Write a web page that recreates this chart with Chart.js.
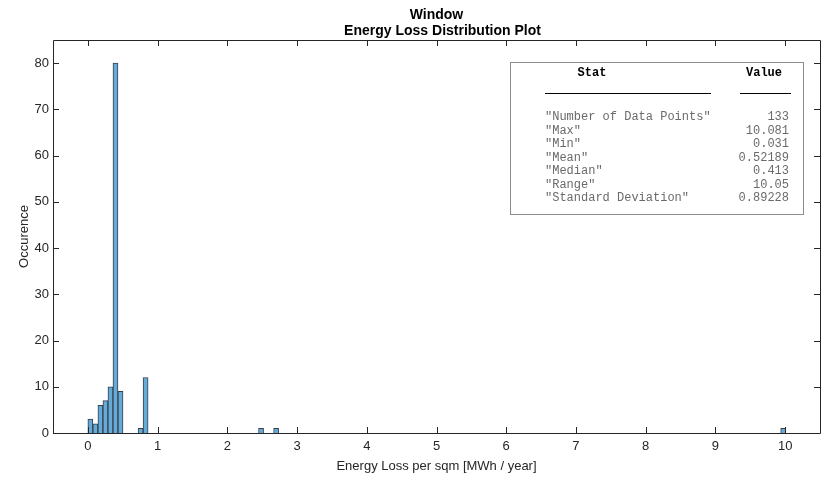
<!DOCTYPE html>
<html>
<head>
<meta charset="utf-8">
<script src="https://cdn.jsdelivr.net/npm/chart.js@4.4.1/dist/chart.umd.min.js"></script>
<style>
    html, body { margin: 0; padding: 0; background: #fff; }
    #wrap { width: 827px; height: 477px; position: relative; }
</style>
</head>
<body>
<div id="wrap"><canvas id="histChart"></canvas></div>
<script>
// Histogram bins (centers, MWh / year) and counts
const binWidth = 0.072;
const binCenters = [0.036, 0.108, 0.18, 0.252, 0.324, 0.396, 0.468, 0.756, 0.828, 2.484, 2.7, 9.972];
const binCounts = [3, 2, 6, 7, 10, 80, 9, 1, 12, 1, 1, 1];

const xTickValues = [0, 1, 2, 3, 4, 5, 6, 7, 8, 9, 10];
const yTickValues = [0, 10, 20, 30, 40, 50, 60, 70, 80];

const titleLines = ['Window', 'Energy Loss Distribution Plot'];

// Stats table
const statNames = ['"Number of Data Points"', '"Max"', '"Min"', '"Mean"', '"Median"', '"Range"', '"Standard Deviation"'];
const statValues = ['133', '10.081', '0.031', '0.52189', '0.413', '10.05', '0.89228'];

const axisColor = '#262626';

// Draws the MATLAB-like box, inward ticks, titles and the stats table
const matlabFrame = {
    id: 'matlabFrame',
    afterDraw(chart) {
        const ctx = chart.ctx;
        const area = chart.chartArea;
        const xs = chart.scales.x;
        const ys = chart.scales.y;
        const tickLen = 6;

        ctx.save();
        ctx.strokeStyle = axisColor;
        ctx.lineWidth = 1;
        ctx.beginPath();
        ctx.rect(Math.round(area.left) + 0.5, Math.round(area.top) + 0.5,
            Math.round(area.right - area.left), Math.round(area.bottom - area.top));
        ctx.stroke();

        ctx.beginPath();
        xTickValues.forEach(v => {
            const px = Math.round(xs.getPixelForValue(v)) + 0.5;
            ctx.moveTo(px, area.bottom);
            ctx.lineTo(px, area.bottom - tickLen);
            ctx.moveTo(px, area.top);
            ctx.lineTo(px, area.top + tickLen);
        });
        yTickValues.forEach(v => {
            const py = Math.round(ys.getPixelForValue(v)) + 0.5;
            ctx.moveTo(area.left, py);
            ctx.lineTo(area.left + tickLen, py);
            ctx.moveTo(area.right, py);
            ctx.lineTo(area.right - tickLen, py);
        });
        ctx.stroke();

        // Title
        const cx = (area.left + area.right) / 2;
        ctx.fillStyle = '#000';
        ctx.textAlign = 'center';
        ctx.textBaseline = 'middle';
        ctx.font = 'bold 14px "Liberation Sans", Arial, sans-serif';
        ctx.fillText(titleLines[0], cx, 15);
        ctx.fillText(titleLines[1], cx + 6, 31);

        // Stats table
        const box = { left: 510, top: 62, right: 803, bottom: 214 };
        ctx.fillStyle = '#fff';
        ctx.fillRect(box.left, box.top, box.right - box.left, box.bottom - box.top);
        ctx.strokeStyle = '#8c8c8c';
        ctx.strokeRect(box.left + 0.5, box.top + 0.5, box.right - box.left, box.bottom - box.top);

        ctx.fillStyle = '#000';
        ctx.font = 'bold 12px "Liberation Mono", "Courier New", monospace';
        ctx.fillText('Stat', 592, 73);
        ctx.fillText('Value', 764, 73);

        ctx.strokeStyle = '#000';
        ctx.beginPath();
        ctx.moveTo(545, 93.5); ctx.lineTo(711, 93.5);
        ctx.moveTo(740, 93.5); ctx.lineTo(791, 93.5);
        ctx.stroke();

        ctx.font = '12px "Liberation Mono", "Courier New", monospace';
        ctx.fillStyle = '#6a6a6a';
        statNames.forEach((name, i) => {
            const y = 117 + i * 13.5;
            ctx.textAlign = 'left';
            ctx.fillText(name, 545, y);
            ctx.textAlign = 'right';
            ctx.fillText(statValues[i], 789, y);
        });
        ctx.restore();
    }
};

const ctx = document.getElementById('histChart').getContext('2d');

new Chart(ctx, {
    type: 'bar',
    data: {
        datasets: [{
            data: binCenters.map((c, i) => ({ x: c, y: binCounts[i] })),
            backgroundColor: 'rgb(102, 170, 215)',
            borderColor: 'rgba(20, 30, 45, 0.85)',
            borderWidth: 1,
            borderSkipped: 'start',
            barPercentage: 1,
            categoryPercentage: 1
        }]
    },
    options: {
        responsive: true,
        maintainAspectRatio: false,
        animation: false,
        layout: { padding: { top: 40, right: 7, left: 0, bottom: 0 } },
        plugins: {
            legend: { display: false },
            tooltip: { enabled: false }
        },
        scales: {
            x: {
                type: 'linear',
                offset: false,
                min: -0.5,
                max: 10.5,
                grid: { display: false, drawTicks: false },
                border: { display: false },
                afterBuildTicks: (scale) => { scale.ticks = xTickValues.map(v => ({ value: v })); },
                afterFit: (scale) => { scale.height = 44; },
                ticks: {
                    color: axisColor,
                    padding: 6,
                    maxRotation: 0,
                    font: { family: '"Liberation Sans", Arial, sans-serif', size: 13 }
                },
                title: {
                    display: true,
                    text: 'Energy Loss per sqm [MWh / year]',
                    color: axisColor,
                    padding: { top: 0, bottom: 3 },
                    font: { family: '"Liberation Sans", Arial, sans-serif', size: 13 }
                }
            },
            y: {
                min: 0,
                max: 85,
                grid: { display: false, drawTicks: false },
                border: { display: false },
                afterBuildTicks: (scale) => { scale.ticks = yTickValues.map(v => ({ value: v })); },
                afterFit: (scale) => { scale.width = 53; },
                ticks: {
                    color: axisColor,
                    padding: 4,
                    font: { family: '"Liberation Sans", Arial, sans-serif', size: 13 }
                },
                title: {
                    display: true,
                    text: 'Occurence',
                    color: axisColor,
                    padding: { top: 17, bottom: 0 },
                    font: { family: '"Liberation Sans", Arial, sans-serif', size: 13 }
                }
            }
        }
    },
    plugins: [matlabFrame]
});
</script>
</body>
</html>
